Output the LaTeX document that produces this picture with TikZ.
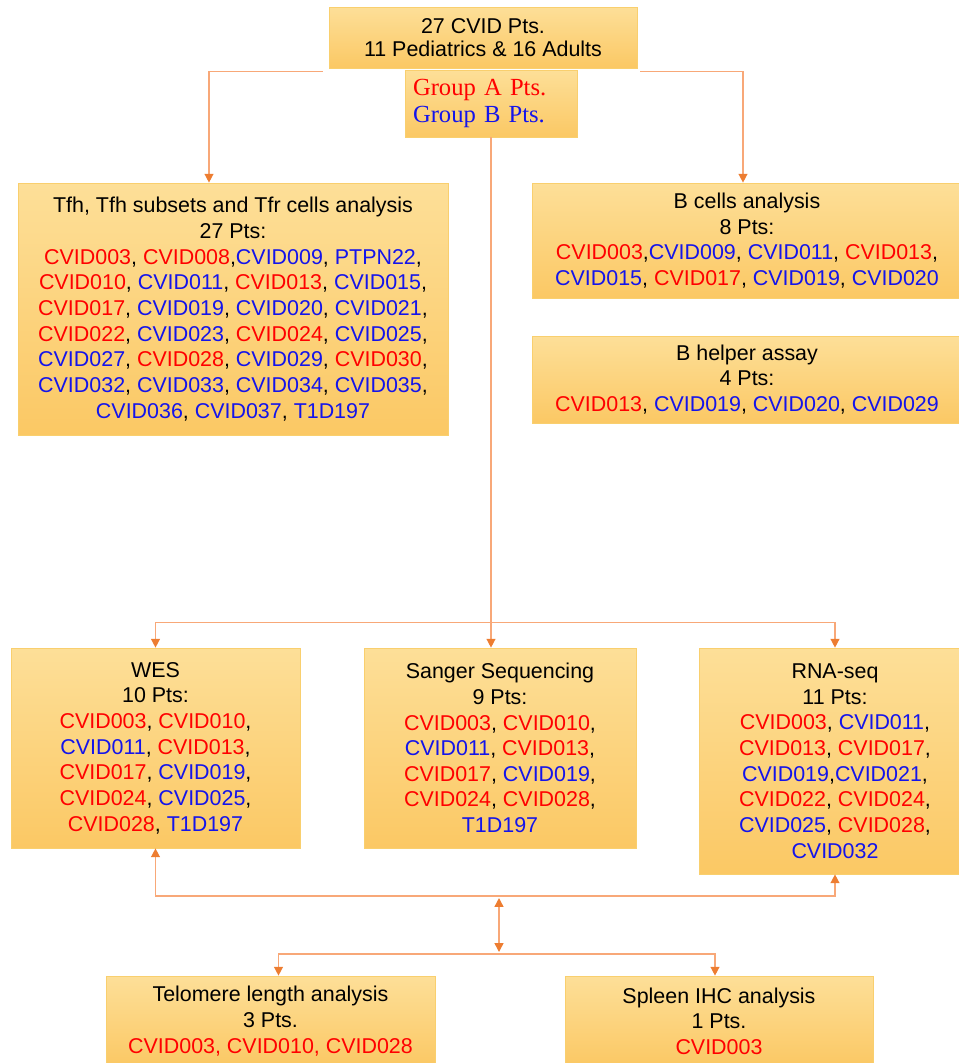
\documentclass[tikz,border=0pt]{standalone}
\usepackage{fontspec}
\setmainfont{Liberation Sans}
\newfontfamily\grpfont{Liberation Serif}
\usetikzlibrary{arrows.meta,calc,positioning}

\definecolor{boxtop}{RGB}{253,223,152}
\definecolor{boxbot}{RGB}{251,200,100}
\definecolor{boxedge}{RGB}{249,207,110}
\definecolor{lineor}{RGB}{248,168,120}
\definecolor{tipor}{RGB}{237,125,49}
\definecolor{grpred}{RGB}{255,0,0}
\definecolor{grpblue}{RGB}{20,20,235}

\newcommand{\gA}[1]{\textcolor{grpred}{#1}}
\newcommand{\gB}[1]{\textcolor{grpblue}{#1}}

\begin{document}
\begin{tikzpicture}[x=0.02cm,y=-0.02cm]

% definitions
\tikzstyle{box} = [rectangle, draw=boxedge, top color=boxtop, bottom color=boxbot, align=center, inner sep=0pt, font=\fontsize{12.2}{14.6}\selectfont]

\tikzstyle{arrow} = [-{Triangle[length=5pt,width=5pt,color=tipor]}, draw=lineor, line width=0.8pt]

\tikzstyle{dblarrow} = [{Triangle[length=5pt,width=5pt,color=tipor]}-{Triangle[length=5pt,width=5pt,color=tipor]}, draw=lineor, line width=0.8pt]

\useasboundingbox (0,0) rectangle (959,1063);

% the graph
\node (top) [box, minimum width=6.16cm, minimum height=1.22cm, font=\fontsize{12.2}{13.4}\selectfont] at (483,37.5) {27 CVID Pts.\\11 Pediatrics \& 16 Adults};

\node (grp) [box, minimum width=3.44cm, minimum height=1.34cm, align=left, text width=3.12cm, font=\grpfont\fontsize{14}{15.4}\selectfont] at (491,103.5) {\gA{Group A Pts.}\\\gB{Group B Pts.}};

\node (tfh) [box, minimum width=8.6cm, minimum height=5.04cm] at (233,309) {Tfh, Tfh subsets and Tfr cells analysis\\27 Pts:\\
\gA{CVID003}, \gA{CVID008},\gB{CVID009}, \gB{PTPN22},\\
\gA{CVID010}, \gB{CVID011}, \gA{CVID013}, \gB{CVID015},\\
\gA{CVID017}, \gB{CVID019}, \gB{CVID020}, \gB{CVID021},\\
\gA{CVID022}, \gB{CVID023}, \gA{CVID024}, \gB{CVID025},\\
\gB{CVID027}, \gA{CVID028}, \gB{CVID029}, \gA{CVID030},\\
\gB{CVID032}, \gB{CVID033}, \gB{CVID034}, \gB{CVID035},\\
\gB{CVID036}, \gB{CVID037}, \gB{T1D197}};

\node (bcell) [box, minimum width=8.6cm, minimum height=2.3cm] at (747,240.5) {B cells analysis\\8 Pts:\\
\gA{CVID003},\gB{CVID009}, \gB{CVID011}, \gA{CVID013},\\
\gB{CVID015}, \gA{CVID017}, \gB{CVID019}, \gB{CVID020}};

\node (bhelp) [box, minimum width=8.6cm, minimum height=1.74cm] at (747,379.5) {B helper assay\\4 Pts:\\
\gA{CVID013}, \gB{CVID019}, \gB{CVID020}, \gB{CVID029}};

\node (wes) [box, minimum width=5.78cm, minimum height=4cm] at (155.5,748) {WES\\10 Pts:\\
\gA{CVID003}, \gA{CVID010},\\
\gB{CVID011}, \gA{CVID013},\\
\gA{CVID017}, \gB{CVID019},\\
\gA{CVID024}, \gB{CVID025},\\
\gA{CVID028}, \gB{T1D197}};

\node (sanger) [box, minimum width=5.44cm, minimum height=4cm] at (500,748) {Sanger Sequencing\\9 Pts:\\
\gA{CVID003}, \gA{CVID010},\\
\gB{CVID011}, \gA{CVID013},\\
\gA{CVID017}, \gB{CVID019},\\
\gA{CVID024}, \gA{CVID028},\\
\gB{T1D197}};

\node (rnaseq) [box, minimum width=5.44cm, minimum height=4.52cm] at (835,761) {RNA-seq\\11 Pts:\\
\gA{CVID003}, \gB{CVID011},\\
\gA{CVID013}, \gA{CVID017},\\
\gB{CVID019},\gB{CVID021},\\
\gA{CVID022}, \gA{CVID024},\\
\gB{CVID025}, \gA{CVID028},\\
\gB{CVID032}};

\node (telo) [box, minimum width=6.58cm, minimum height=1.8cm] at (270.5,1021) {Telomere length analysis\\3 Pts.\\\gA{CVID003, CVID010, CVID028}};

\node (spleen) [box, minimum width=6.16cm, minimum height=1.8cm] at (719,1021) {Spleen IHC analysis\\1 Pts.\\\gA{CVID003}};

\coordinate (j0) at ($(grp.south)+(0,485)$);
\coordinate (j1) at (499,896);
\coordinate (j2) at (499,954);

\draw [arrow] ($(top.south west)+(-6,3)$) -| ($(tfh.north)+(-24,0)$);
\draw [arrow] ($(top.south east)+(3,3)$) -| ($(bcell.north)+(-4,0)$);
\draw [arrow] (grp.south) -- (grp.south |- sanger.north);
\draw [arrow] (j0) -| (wes.north);
\draw [arrow] (j0) -| (rnaseq.north);
\draw [arrow] (j1) -| (wes.south);
\draw [arrow] (j1) -| (rnaseq.south);
\draw [dblarrow] ($(j1)+(0,2)$) -- ($(j2)+(0,-2)$);
\draw [arrow] (j2) -| ($(telo.north)+(8,0)$);
\draw [arrow] (j2) -| ($(spleen.north)+(-4,0)$);

\end{tikzpicture}
\end{document}
